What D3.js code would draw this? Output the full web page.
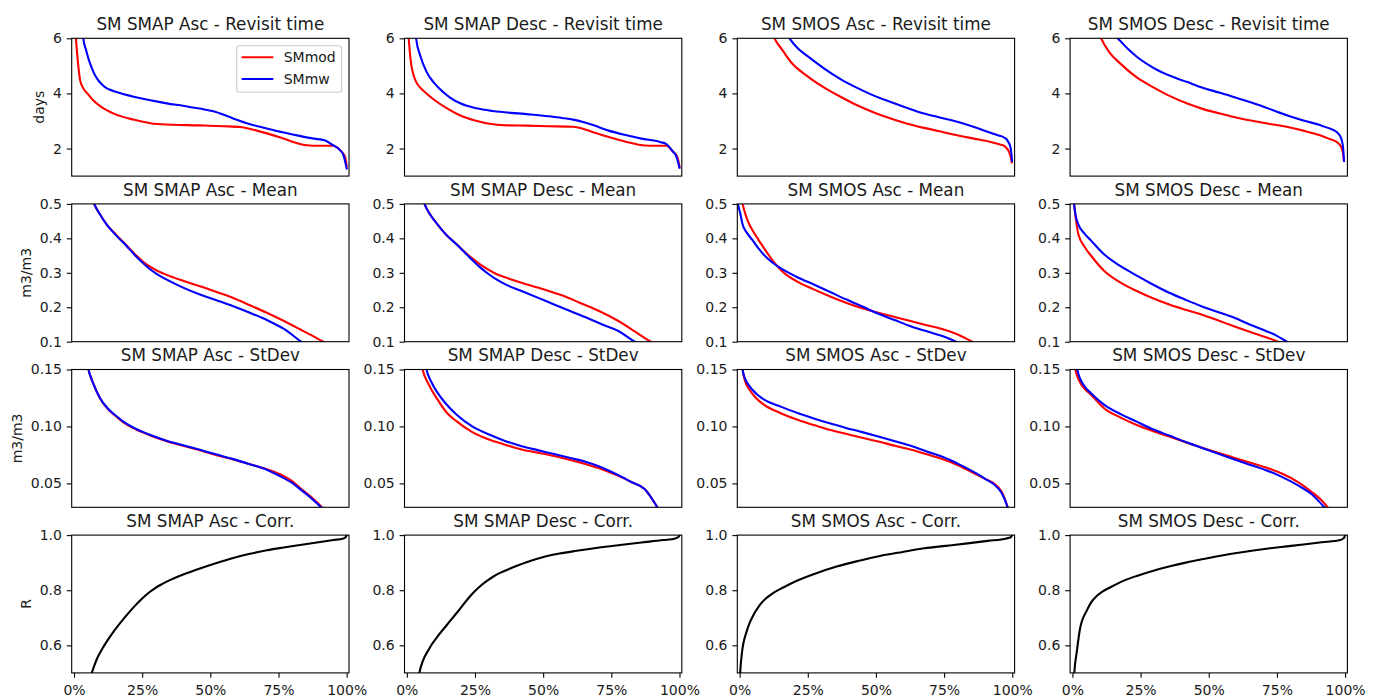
<!DOCTYPE html>
<html>
<head>
<meta charset="utf-8">
<script src="https://cdn.jsdelivr.net/npm/d3@7"></script>
<style>
  html, body { margin: 0; padding: 0; background: #fff; }
  svg { display: block; font-family: "DejaVu Sans", sans-serif; }
</style>
</head>
<body>
<svg id="chart" width="1375" height="697"></svg>
<script>
// Cumulative-style curves per product / metric
// x = percent of pixels, y = metric value

// Revisit time (days)
const smapAscRevMod = [[0.3,6.6],[0.7,6],[1.6,4.97],[2.2,4.5],[3.3,4.2],[4.9,4.0],[7,3.75],[10,3.51],[15,3.25],[21.8,3.05],[28,2.92],[34,2.87],[46,2.84],[55,2.81],[60.9,2.78],[65,2.7],[70.7,2.55],[76,2.39],[80.4,2.24],[85.3,2.12],[90,2.1],[95,2.1],[97.5,1.95],[99.4,1.7],[100,1.35]];
const smapAscRevMw = [[2.8,7],[3.4,6],[4.5,5.55],[5.5,5.2],[6.5,4.93],[7.5,4.7],[8.7,4.5],[10,4.35],[11.5,4.22],[13,4.14],[15.6,4.05],[21.9,3.88],[28,3.75],[34,3.64],[40,3.55],[46.2,3.45],[52,3.33],[58.4,3.09],[64,2.9],[70.7,2.73],[77,2.58],[82.7,2.46],[88,2.36],[91.9,2.3],[95,2.12],[97.5,1.95],[98.8,1.76],[100,1.28]];
const smapDescRevMod = [[0.3,6.6],[0.7,6],[1.2,5.4],[1.7,5.0],[2.5,4.65],[3.5,4.4],[5,4.2],[7.2,4.0],[10,3.77],[14,3.5],[19.4,3.21],[25,3.02],[31.6,2.88],[37,2.84],[43.9,2.83],[52,2.81],[61,2.79],[64,2.74],[68.3,2.59],[74,2.42],[80.6,2.24],[85,2.14],[89.1,2.1],[95.2,2.1],[97.5,1.9],[99.2,1.7],[100,1.35]];
const smapDescRevMw = [[2.8,6.8],[3.4,6],[5,5.35],[7.2,4.79],[10,4.38],[13.3,4.05],[16,3.84],[19.4,3.65],[22,3.55],[25.5,3.46],[31.6,3.36],[43.9,3.25],[52,3.17],[57,3.11],[61,3.05],[65,2.95],[68.3,2.85],[74,2.65],[80.6,2.48],[86,2.36],[92.8,2.24],[95.2,2.16],[97.5,1.9],[98.9,1.7],[100,1.3]];
const smosAscRevMod = [[11,6.5],[12.8,6],[15.5,5.6],[18.7,5.15],[24.8,4.63],[30.9,4.22],[37,3.88],[43.1,3.57],[49,3.32],[55.4,3.09],[61.5,2.9],[67.6,2.75],[73.7,2.62],[79.8,2.48],[86,2.36],[92,2.24],[95.5,2.15],[97,2.1],[98.2,1.98],[98.8,1.88],[99.4,1.7],[99.8,1.5]];
const smosAscRevMw = [[16.5,6.5],[18.3,6],[18.7,5.94],[21.5,5.62],[24.8,5.36],[30.9,4.91],[37,4.52],[43.1,4.2],[49,3.93],[55.4,3.69],[61.5,3.47],[67.6,3.27],[73.7,3.12],[79.8,2.97],[86,2.78],[92,2.57],[95,2.47],[97,2.4],[98.5,2.25],[99.3,2.06],[99.7,1.8],[99.9,1.55]];
const smosDescRevMod = [[8.5,6.5],[10.5,6],[13.5,5.5],[17.5,5.09],[23.6,4.58],[29.7,4.22],[35.8,3.9],[41.9,3.64],[48,3.43],[54.2,3.27],[60.3,3.12],[66.4,3.0],[72.5,2.89],[78.6,2.79],[84.7,2.65],[90.8,2.48],[94,2.36],[96.9,2.24],[98.2,2.12],[98.8,2.0],[99.3,1.8],[99.6,1.55]];
const smosDescRevMw = [[15,6.5],[16.6,6],[17.5,5.91],[20.5,5.6],[23.6,5.33],[29.7,4.93],[35.8,4.64],[41.9,4.42],[48,4.2],[54.2,4.02],[60.3,3.83],[66.4,3.64],[72.5,3.43],[78.6,3.21],[84.7,3.02],[90.8,2.85],[94,2.74],[96.9,2.6],[98.2,2.45],[98.8,2.3],[99.3,2.0],[99.6,1.55]];

// Mean (m3/m3)
const smapAscMeanMod = [[5.5,0.55],[7.4,0.5],[9.5,0.47],[12,0.44],[15.5,0.41],[19.6,0.377],[22,0.357],[24.5,0.338],[27,0.322],[30,0.308],[34,0.294],[40,0.277],[46.2,0.261],[52,0.245],[58.4,0.227],[64.5,0.206],[70.7,0.184],[77,0.16],[82.9,0.136],[87.5,0.117],[91.4,0.1],[94,0.09]];
const smapAscMeanMw = [[5.5,0.55],[7.4,0.5],[9.5,0.47],[12,0.44],[15.5,0.408],[19.6,0.375],[22,0.354],[24.5,0.334],[27,0.316],[30,0.298],[34,0.28],[40,0.257],[46.2,0.237],[52,0.221],[58.4,0.203],[64.5,0.184],[70.7,0.163],[77,0.137],[83.3,0.1],[86,0.085]];
const smapDescMeanMod = [[4.8,0.55],[6.5,0.5],[8.5,0.47],[11.3,0.44],[14.5,0.41],[18.3,0.383],[21,0.362],[24,0.342],[27,0.324],[30.2,0.308],[33,0.296],[36,0.287],[42.1,0.271],[48,0.257],[54,0.242],[58.5,0.23],[63.4,0.213],[70.5,0.189],[77.6,0.16],[84,0.128],[89.5,0.1],[92,0.09]];
const smapDescMeanMw = [[4.8,0.55],[6.5,0.5],[8.5,0.47],[11.3,0.44],[14.5,0.41],[18.3,0.382],[21,0.361],[24,0.337],[27,0.315],[30.2,0.295],[33,0.28],[36,0.267],[42.1,0.247],[48,0.228],[54,0.208],[59.9,0.189],[65.8,0.17],[71.7,0.15],[77.6,0.131],[83.6,0.1],[86,0.09]];
const smosAscMeanMod = [[0.6,0.52],[1.1,0.5],[2.2,0.468],[3.4,0.443],[5,0.42],[7,0.395],[9.5,0.365],[12,0.337],[15.3,0.307],[21,0.275],[27.2,0.252],[33,0.232],[39,0.213],[45,0.197],[50.9,0.184],[56.8,0.172],[62.7,0.16],[68.6,0.148],[74.6,0.136],[80,0.121],[85.3,0.1],[88,0.09]];
const smosAscMeanMw = [[-1,0.52],[-0.6,0.5],[0.3,0.47],[1.1,0.44],[2.5,0.418],[4.6,0.396],[7,0.37],[9.5,0.347],[12,0.33],[15.3,0.312],[21,0.288],[27.2,0.266],[33,0.245],[39,0.223],[45,0.202],[50.9,0.181],[56.8,0.163],[62.7,0.145],[68.6,0.13],[74.6,0.116],[79.4,0.1],[82,0.09]];
const smosDescMeanMod = [[0.2,0.53],[0.6,0.5],[1.2,0.46],[2.2,0.411],[4.5,0.375],[7,0.348],[11.7,0.305],[17.5,0.272],[23.6,0.247],[29.5,0.226],[35.5,0.208],[41.4,0.193],[47.3,0.179],[53.3,0.162],[59.2,0.145],[65,0.129],[71,0.113],[75.4,0.1],[78,0.092]];
const smosDescMeanMw = [[0.2,0.53],[0.6,0.5],[1.2,0.465],[2.2,0.44],[4.5,0.413],[7,0.392],[11.7,0.353],[17.5,0.32],[23.6,0.292],[29.5,0.266],[35.5,0.242],[41.4,0.222],[47.3,0.203],[53.3,0.186],[59.2,0.17],[65,0.15],[71,0.131],[75,0.117],[78.7,0.1],[81,0.092]];

// StDev (m3/m3)
const smapAscStdMod = [[4.5,0.16],[5.3,0.15],[7,0.138],[9.5,0.1248],[12.5,0.115],[15.6,0.1085],[18.5,0.103],[21.8,0.0985],[28,0.092],[34,0.087],[40,0.083],[46.2,0.079],[52,0.075],[58.4,0.071],[64.5,0.0668],[70.7,0.0624],[76.8,0.0566],[80,0.052],[82.9,0.046],[87,0.038],[90.9,0.029],[92,0.026]];
const smapAscStdMw = [[4.5,0.16],[5.3,0.15],[7,0.138],[9.5,0.125],[12.5,0.1155],[15.6,0.109],[18.5,0.1035],[21.8,0.099],[28,0.0925],[34,0.0875],[40,0.0835],[46.2,0.0795],[52,0.0755],[58.4,0.0713],[64.5,0.0668],[70.7,0.062],[76.8,0.0548],[80,0.0505],[82.9,0.045],[87,0.037],[90.5,0.029],[91.5,0.026]];
const smapDescStdMod = [[5,0.16],[5.8,0.15],[8,0.137],[11.3,0.1235],[14.5,0.1125],[18.3,0.1044],[24,0.095],[30.2,0.0885],[36,0.084],[42.1,0.0798],[48,0.077],[54,0.074],[60,0.0705],[65.8,0.0668],[71.5,0.0625],[77.6,0.0566],[82.5,0.051],[87.2,0.045],[89.5,0.038],[91.9,0.029],[92.8,0.026]];
const smapDescStdMw = [[6.4,0.16],[7.2,0.15],[9,0.139],[11.3,0.1295],[14.5,0.1195],[18.3,0.1103],[24,0.1],[30.2,0.0929],[36,0.0873],[42.1,0.0827],[48,0.0792],[54,0.0758],[60,0.0723],[65.8,0.0688],[71.5,0.064],[77.6,0.0572],[82.5,0.051],[87.2,0.045],[89.5,0.038],[91.9,0.029],[92.8,0.026]];
const smosAscStdMod = [[0.7,0.16],[1.1,0.15],[2,0.14],[3.4,0.1331],[6,0.125],[9,0.119],[15.3,0.1114],[21,0.106],[27.2,0.1013],[33,0.097],[39,0.0935],[45,0.09],[50.9,0.0868],[57,0.083],[63,0.0795],[68.6,0.0755],[74.6,0.0711],[80.5,0.0655],[86.5,0.0581],[90,0.054],[93.6,0.0494],[96,0.043],[98.3,0.029],[98.8,0.025]];
const smosAscStdMw = [[0.7,0.16],[1.1,0.15],[2,0.142],[3.4,0.1361],[6,0.129],[9,0.1235],[15.3,0.1172],[21,0.112],[27.2,0.107],[33,0.1027],[39,0.0987],[45,0.095],[50.9,0.0911],[57,0.087],[63,0.0828],[68.6,0.078],[74.6,0.0731],[80.5,0.0667],[86.5,0.0592],[90,0.054],[93.6,0.0485],[96,0.042],[98.3,0.029],[98.8,0.025]];
const smosDescStdMod = [[0.5,0.16],[1.1,0.15],[2.5,0.14],[4.5,0.133],[7,0.1274],[11.7,0.1158],[17.5,0.108],[23.6,0.1013],[29.5,0.096],[35.5,0.0911],[41.4,0.0862],[47.3,0.0816],[53.3,0.077],[59.2,0.0726],[65,0.0683],[71,0.0639],[77,0.0584],[82.9,0.0509],[88,0.042],[91,0.036],[93.6,0.029],[94.5,0.026]];
const smosDescStdMw = [[1.2,0.16],[1.8,0.15],[3,0.141],[4.5,0.135],[7,0.1288],[11.7,0.119],[17.5,0.111],[23.6,0.1042],[29.5,0.0975],[35.5,0.092],[41.4,0.0865],[47.3,0.0813],[53.3,0.0762],[59.2,0.0711],[65,0.0663],[71,0.0616],[77,0.0555],[82.9,0.048],[88,0.04],[90.5,0.034],[92.4,0.029],[93.5,0.026]];

// Correlation (R)
const smapAscCorr = [[5.8,0.48],[6.5,0.5],[8.5,0.553],[11,0.598],[14.5,0.65],[18.5,0.7],[22.5,0.745],[25,0.77],[27.3,0.79],[29.5,0.806],[31.5,0.818],[34,0.831],[40.1,0.857],[46.2,0.879],[52.3,0.899],[58.4,0.917],[64.5,0.932],[70.7,0.945],[76.8,0.955],[82.9,0.964],[89,0.973],[95.1,0.982],[98.8,0.988],[99.7,0.994],[100,1.0]];
const smapDescCorr = [[4.2,0.48],[4.6,0.5],[8.2,0.588],[11.5,0.635],[14.6,0.673],[18.5,0.72],[22.5,0.77],[25,0.797],[27.3,0.818],[29.5,0.835],[31.5,0.848],[33.6,0.86],[37.5,0.877],[41.6,0.893],[45.5,0.907],[49.5,0.919],[56,0.933],[62.3,0.943],[70,0.954],[78.2,0.964],[86,0.973],[94.1,0.982],[98.5,0.988],[99.7,0.994],[100,1.0]];
const smosAscCorr = [[0.1,0.48],[0.2,0.5],[0.9,0.576],[2.5,0.648],[4.1,0.691],[7.3,0.745],[9.5,0.769],[12,0.788],[16,0.81],[20,0.83],[27.9,0.861],[35.9,0.887],[43.8,0.907],[51.8,0.925],[59.8,0.939],[67.7,0.952],[75.7,0.961],[83.6,0.97],[91,0.979],[97.9,0.988],[99.5,0.993],[100,1.0]];
const smosDescCorr = [[0.6,0.48],[0.7,0.5],[1.6,0.576],[2.8,0.661],[5.3,0.727],[7,0.758],[8.9,0.779],[11,0.795],[13.8,0.81],[18.7,0.834],[23.6,0.852],[29.7,0.871],[35.8,0.887],[42,0.901],[48,0.913],[54.2,0.925],[60.3,0.935],[66.4,0.944],[72.5,0.952],[78.6,0.959],[84.7,0.966],[91.4,0.974],[98.2,0.982],[99.6,0.99],[100,1.0]];

const products = ['SM SMAP Asc', 'SM SMAP Desc', 'SM SMOS Asc', 'SM SMOS Desc'];
const metrics = ['Revisit time', 'Mean', 'StDev', 'Corr.'];
const yLabels = ['days', 'm3/m3', 'm3/m3', 'R'];
const yDomains = [[1, 6], [0.1, 0.5], [0.029, 0.15], [0.5, 1.0]];
const yTicks = [[2, 4, 6], [0.1, 0.2, 0.3, 0.4, 0.5], [0.05, 0.10, 0.15], [0.6, 0.8, 1.0]];
const yTickFormats = ['d', '.1f', '.2f', '.1f'];
const xTicks = [0, 25, 50, 75, 100];
const seriesNames = ['SMmod', 'SMmw'];
const seriesColors = ['#ff0000', '#0000ff'];

// rows = metrics, cols = products
const grid = [
  [[smapAscRevMod, smapAscRevMw], [smapDescRevMod, smapDescRevMw], [smosAscRevMod, smosAscRevMw], [smosDescRevMod, smosDescRevMw]],
  [[smapAscMeanMod, smapAscMeanMw], [smapDescMeanMod, smapDescMeanMw], [smosAscMeanMod, smosAscMeanMw], [smosDescMeanMod, smosDescMeanMw]],
  [[smapAscStdMod, smapAscStdMw], [smapDescStdMod, smapDescStdMw], [smosAscStdMod, smosAscStdMw], [smosDescStdMod, smosDescStdMw]],
  [[smapAscCorr], [smapDescCorr], [smosAscCorr], [smosDescCorr]]
];

// layout (matplotlib-like subplots)
const axLeft0 = 71.7, axColStep = 332.8, axW = 277.3;
const axTop0 = 38.3, axRowStep = 165.6, axH = 137.8;
const tickLen = 4.9, tickPad = 4.9;
const textColor = '#1a1a1a';

const svg = d3.select('#chart');
const defs = svg.append('defs');

const x = d3.scaleLinear().domain([-0.85, 100.85]).range([0, axW]);

grid.forEach((row, r) => {
  const y = d3.scaleLinear().domain(yDomains[r]).range([axH, 0]);
  row.forEach((curves, c) => {
    const left = axLeft0 + c * axColStep;
    const top = axTop0 + r * axRowStep;
    const g = svg.append('g').attr('transform', `translate(${left},${top})`);
    const clipId = `clip-${r}-${c}`;

    defs.append('clipPath').attr('id', clipId)
      .append('rect').attr('width', axW).attr('height', axH);

    const line = d3.line()
      .x(d => x(d[0]))
      .y(d => y(d[1]))
      .curve(d3.curveMonotoneX);

    const plot = g.append('g').attr('clip-path', `url(#${clipId})`);
    curves.forEach((data, i) => {
      plot.append('path')
        .datum(data)
        .attr('d', line)
        .attr('fill', 'none')
        .attr('stroke', curves.length === 1 ? '#000000' : seriesColors[i])
        .attr('stroke-width', 2.1)
        .attr('stroke-linejoin', 'round')
        .attr('stroke-linecap', 'square');
    });

    // y axis
    const yAxis = g.append('g')
      .call(d3.axisLeft(y).tickValues(yTicks[r]).tickFormat(d3.format(yTickFormats[r]))
        .tickSize(tickLen).tickPadding(tickPad));
    yAxis.select('.domain').remove();
    yAxis.selectAll('.tick line').attr('stroke', '#000').attr('stroke-width', 1.1);
    yAxis.selectAll('.tick text')
      .attr('fill', textColor)
      .style('font-size', '14px')
      .style('font-family', '"DejaVu Sans", sans-serif');

    // x axis only on the bottom row
    if (r === grid.length - 1) {
      const xAxis = g.append('g')
        .attr('transform', `translate(0,${axH})`)
        .call(d3.axisBottom(x).tickValues(xTicks).tickFormat(d => d + '%')
          .tickSize(tickLen).tickPadding(tickPad));
      xAxis.select('.domain').remove();
      xAxis.selectAll('.tick line').attr('stroke', '#000').attr('stroke-width', 1.1);
      xAxis.selectAll('.tick text')
        .attr('fill', textColor)
        .attr('dy', '0.86em')
        .style('font-size', '14px')
        .style('font-family', '"DejaVu Sans", sans-serif');
    }

    // frame
    g.append('rect')
      .attr('width', axW).attr('height', axH)
      .attr('fill', 'none')
      .attr('stroke', '#000')
      .attr('stroke-width', 1.1);

    // title
    g.append('text')
      .attr('x', axW / 2)
      .attr('y', -8.3)
      .attr('text-anchor', 'middle')
      .attr('fill', textColor)
      .style('font-size', '16.8px')
      .text(`${products[c]} - ${metrics[r]}`);

    // y label, first column only
    if (c === 0) {
      let minX = 0;
      yAxis.selectAll('.tick text').each(function() {
        minX = Math.min(minX, this.getBBox().x);
      });
      const lx = minX - 5.6 - 3.4;
      g.append('text')
        .attr('transform', `translate(${lx},${axH / 2}) rotate(-90)`)
        .attr('text-anchor', 'middle')
        .attr('fill', textColor)
        .style('font-size', '14px')
        .text(yLabels[r]);
    }

    // legend, first panel only
    if (r === 0 && c === 0) {
      const lg = g.append('g').attr('transform', `translate(${axW - 7.3 - 105},7.4)`);
      lg.append('rect')
        .attr('width', 105).attr('height', 46.6)
        .attr('rx', 3).attr('ry', 3)
        .attr('fill', '#fff').attr('fill-opacity', 0.8)
        .attr('stroke', '#cccccc').attr('stroke-width', 1.1);
      seriesNames.forEach((name, i) => {
        const ly = 11.6 + i * 21.7;
        lg.append('line')
          .attr('x1', 5).attr('x2', 36.6)
          .attr('y1', ly).attr('y2', ly)
          .attr('stroke', seriesColors[i]).attr('stroke-width', 2.1);
        lg.append('text')
          .attr('x', 47).attr('y', ly)
          .attr('dy', '0.36em')
          .attr('fill', textColor)
          .style('font-size', '14px')
          .text(name);
      });
    }
  });
});
</script>
</body>
</html>
